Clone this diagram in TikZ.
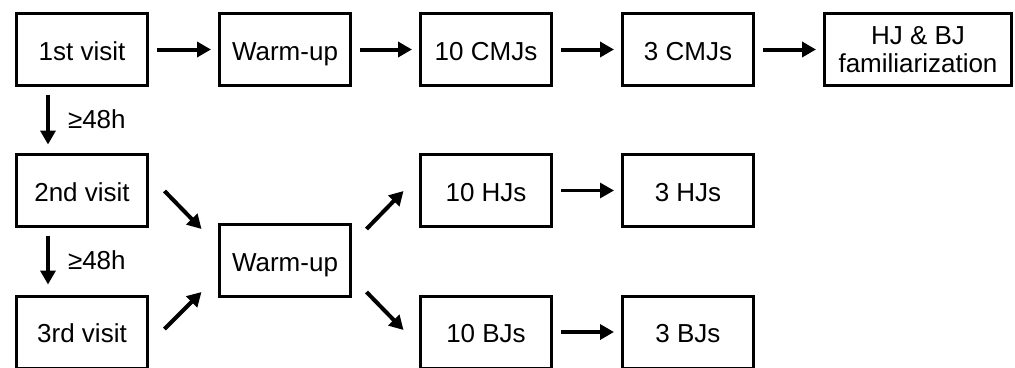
\documentclass[tikz,border=0pt]{standalone}
\usepackage{fontspec}
\setmainfont{Liberation Sans}
\usetikzlibrary{arrows.meta,calc}
\tikzset{>={Triangle[length=14pt,width=15pt]}}

\begin{document}
\begin{tikzpicture}[x=1pt, y=1pt,
  box/.style={draw, line width=3pt, minimum width=131pt, minimum height=72pt,
    inner sep=2pt, font=\fontsize{26}{28}\selectfont},
  onebox/.style={box, text height=26pt, text depth=5pt},
  arr/.style={->, line width=4pt},
  gap/.style={right, inner sep=0pt, xshift=18pt, font=\fontsize{26}{28}\selectfont}]

\useasboundingbox (0,0) rectangle (1015,-367);

% Primera visita: calentamiento y CMJs
\node[onebox] (visit1) at (82,-49.5) {1st visit};
\node[onebox] (warmA) at (285,-49.5) {Warm-up};
\node[onebox] (cmjTen) at (486,-49.5) {10 CMJs};
\node[onebox] (cmjThree) at (688,-49.5) {3 CMJs};
\node[box, minimum width=187pt, align=center] (famil) at (918,-49.5) {HJ \& BJ\\familiarization};

% Segunda y tercera visita
\node[onebox] (visit2) at (82,-190.5) {2nd visit};
\node[onebox] (visit3) at (82,-332) {3rd visit};
\node[onebox] (warmB) at (285,-260.5) {Warm-up};
\node[onebox] (hjTen) at (486,-190.5) {10 HJs};
\node[onebox] (hjThree) at (688,-190.5) {3 HJs};
\node[onebox] (bjTen) at (486,-332) {10 BJs};
\node[onebox] (bjThree) at (688,-332) {3 BJs};

% Flechas horizontales
\draw[arr] ([xshift=8pt]visit1.east) -- ([xshift=-7pt]warmA.west);
\draw[arr] ([xshift=8pt]warmA.east) -- ([xshift=-7pt]cmjTen.west);
\draw[arr] ([xshift=8pt]cmjTen.east) -- ([xshift=-7pt]cmjThree.west);
\draw[arr] ([xshift=8pt]cmjThree.east) -- ([xshift=-7pt]famil.west);
\draw[arr, line width=3pt] ([xshift=8pt]hjTen.east) -- ([xshift=-7pt]hjThree.west);
\draw[arr] ([xshift=8pt]bjTen.east) -- ([xshift=-7pt]bjThree.west);

% Entre visitas (>=48h)
\draw[arr] ($(visit1.south)+(-34,-7.5)$) -- node[gap] {≥48h} ($(visit2.north)+(-34,8.5)$);
\draw[arr] ($(visit2.south)+(-34,-7.5)$) -- node[gap] {≥48h} ($(visit3.north)+(-34,10)$);

% Flechas diagonales
\draw[arr] ($(visit2.east)+(15.5,-0.5)$) -- ($(warmB.west)+(-16.5,31.5)$);
\draw[arr] ($(visit3.east)+(15.5,3)$) -- ($(warmB.west)+(-16.5,-31.5)$);
\draw[arr] ($(warmB.east)+(14.5,31.5)$) -- ($(hjTen.west)+(-15.5,-0.5)$);
\draw[arr] ($(warmB.east)+(14.5,-31.5)$) -- ($(bjTen.west)+(-15.5,2)$);

\end{tikzpicture}
\end{document}
